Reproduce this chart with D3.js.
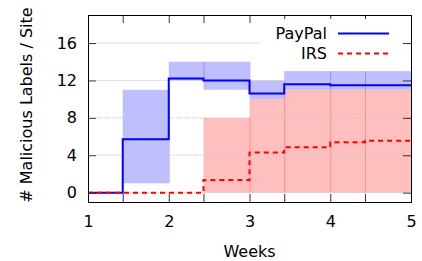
<!DOCTYPE html>
<html>
<head>
<meta charset="utf-8">
<script src="https://cdn.jsdelivr.net/npm/d3@7/dist/d3.min.js"></script>
<style>
  html, body { margin: 0; padding: 0; background: #fff; }
  svg { display: block; font-family: "DejaVu Sans", sans-serif; }
</style>
</head>
<body>
<svg id="chart" width="422" height="261"></svg>
<script>
// ---- data ----
const stepEdges   = [1, 1.43, 2, 2.43, 3, 3.43, 4, 4.43, 5];
const paypal      = [0, 5.7, 12.2, 12.0, 10.6, 11.6, 11.5, 11.5];
const paypalLow   = [0, 1, 12, 11, 10, 11, 11, 11];
const paypalHigh  = [0, 11, 14, 14, 12, 13, 13, 13];
const irs         = [0, 0, 0, 1.35, 4.3, 4.85, 5.4, 5.55];
const irsLow      = [0, 0, 0, 0, 0, 0, 0, 0];
const irsHigh     = [0, 0, 0, 8, 10, 11, 11, 11];
const xTickValues = [1, 1.43, 2, 2.43, 3, 3.43, 4, 4.43, 5];
const xTickLabels = ["1", "", "2", "", "3", "", "4", "", "5"];
const yTickValues = [0, 4, 8, 12, 16];
const seriesNames = ["PayPal", "IRS"];

// ---- layout ----
const L = 88, R = 411, T = 15, B = 202;
const svg = d3.select("#chart");
const x = d3.scaleLinear().domain([1, 5]).range([L, R]);
const y = d3.scaleLinear().domain([-1, 19]).range([B, T]);

const blue = "#0000ff", red = "#ff0000";

// bands
function bands(low, high, color) {
  const g = svg.append("g");
  low.forEach((lo, i) => {
    if (high[i] - lo <= 0) return;
    g.append("rect")
      .attr("x", x(stepEdges[i]))
      .attr("width", x(stepEdges[i + 1]) - x(stepEdges[i]) + (i < low.length - 1 ? 1 : 0))
      .attr("y", y(high[i]))
      .attr("height", y(lo) - y(high[i]))
      .attr("fill", color)
      .attr("fill-opacity", 0.25);
  });
}
bands(paypalLow, paypalHigh, blue);
bands(irsLow, irsHigh, red);

// grid
svg.append("g").selectAll("line").data(yTickValues).join("line")
  .attr("x1", L + 8).attr("x2", R - 8)
  .attr("y1", d => y(d)).attr("y2", d => y(d))
  .attr("stroke", "#c8c8c8").attr("stroke-width", 1)
  .attr("stroke-dasharray", "1,1");

// step lines
const stepLine = d3.line().curve(d3.curveStepAfter)
  .x(d => x(d[0])).y(d => y(d[1]));
function pts(vals) {
  const p = vals.map((v, i) => [stepEdges[i], v]);
  p.push([stepEdges[stepEdges.length - 1], vals[vals.length - 1]]);
  return p;
}
svg.append("path").attr("d", stepLine(pts(paypal)))
  .attr("fill", "none").attr("stroke", blue).attr("stroke-width", 2);
svg.append("path").attr("d", stepLine(pts(irs)))
  .attr("fill", "none").attr("stroke", red).attr("stroke-width", 2)
  .attr("stroke-dasharray", "5,4");

// axes
const fs = 16;
const xAxisB = d3.axisBottom(x).tickValues(xTickValues)
  .tickSizeInner(-8).tickSizeOuter(0).tickPadding(14)
  .tickFormat((d, i) => xTickLabels[i]);
const gxb = svg.append("g").attr("transform", `translate(0,${B})`).call(xAxisB);
const xAxisT = d3.axisTop(x).tickValues(xTickValues)
  .tickSizeInner(-8).tickSizeOuter(0).tickFormat("");
const gxt = svg.append("g").attr("transform", `translate(0,${T})`).call(xAxisT);
const yAxisL = d3.axisLeft(y).tickValues(yTickValues)
  .tickSizeInner(-8).tickSizeOuter(0).tickPadding(11);
const gyl = svg.append("g").attr("transform", `translate(${L},0)`).call(yAxisL);
const yAxisR = d3.axisRight(y).tickValues(yTickValues)
  .tickSizeInner(-8).tickSizeOuter(0).tickFormat("");
const gyr = svg.append("g").attr("transform", `translate(${R},0)`).call(yAxisR);
[gxb, gxt, gyl, gyr].forEach(g => {
  g.select(".domain").remove();
  g.selectAll(".tick line").attr("stroke", "#333");
  g.selectAll("text").attr("font-size", fs).attr("fill", "#000")
    .attr("font-family", "DejaVu Sans, sans-serif");
});

// frame
svg.append("rect").attr("x", L + 0.5).attr("y", T + 0.5)
  .attr("width", R - L).attr("height", B - T)
  .attr("fill", "none").attr("stroke", "#000").attr("stroke-width", 1);

// legend
svg.append("rect").attr("x", 262).attr("y", 19).attr("width", 140).attr("height", 44)
  .attr("fill", "#fff");
const legend = [
  { name: seriesNames[0], color: blue, dash: null, yy: 33.5 },
  { name: seriesNames[1], color: red, dash: "5,4", yy: 53.5 }
];
legend.forEach(d => {
  svg.append("text").attr("x", 327).attr("y", d.yy + 5.5)
    .attr("text-anchor", "end").attr("font-size", fs).attr("fill", "#000")
    .text(d.name);
  svg.append("line").attr("x1", 338).attr("x2", 389)
    .attr("y1", d.yy).attr("y2", d.yy)
    .attr("stroke", d.color).attr("stroke-width", 2)
    .attr("stroke-dasharray", d.dash);
});

// axis titles
svg.append("text").attr("x", (L + R) / 2).attr("y", 256.5)
  .attr("text-anchor", "middle").attr("font-size", fs).attr("fill", "#000")
  .text("Weeks");
svg.append("text")
  .attr("transform", `translate(32,105) rotate(-90)`)
  .attr("text-anchor", "middle").attr("font-size", fs).attr("fill", "#000")
  .text("# Malicious Labels / Site");
</script>
</body>
</html>
